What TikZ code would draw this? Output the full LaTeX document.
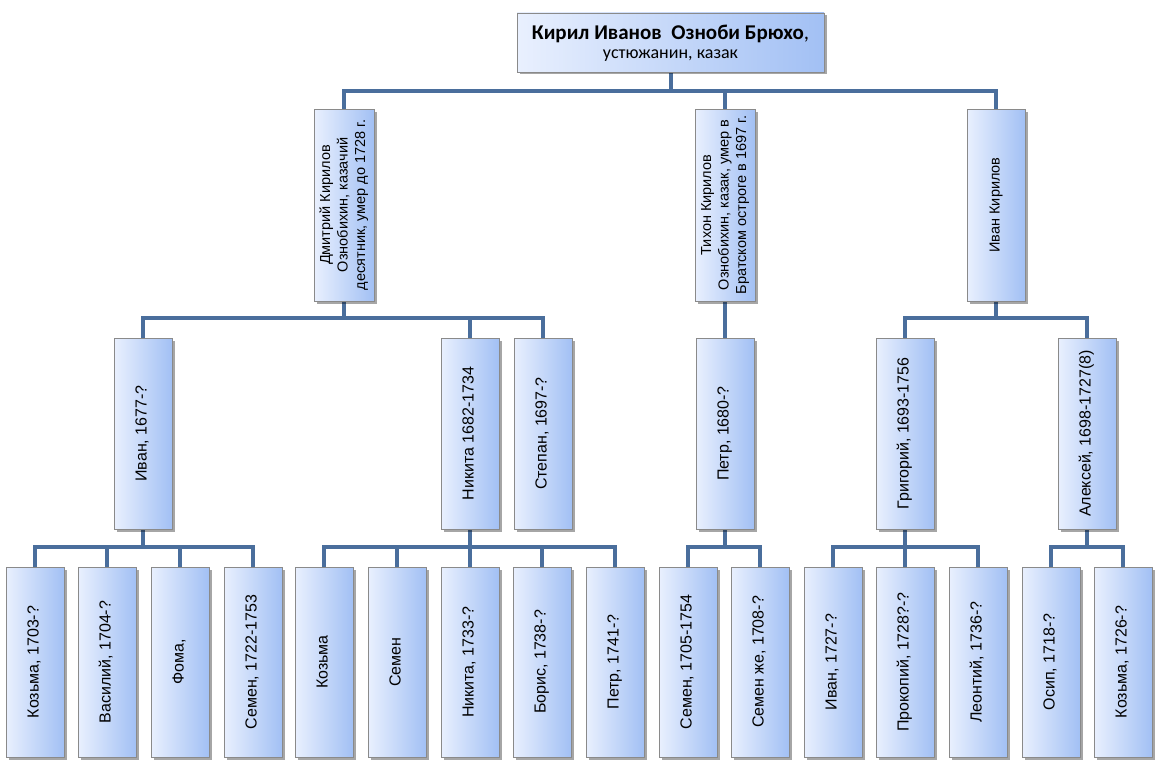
\documentclass[tikz,border=0pt]{standalone}
\usepackage{graphicx}
\usepackage{fontspec}
\setmainfont{Liberation Sans}
\newfontfamily\titlefont{Carlito}
\usetikzlibrary{shadows,backgrounds}
\definecolor{linec}{HTML}{4A6E9C}
\definecolor{boxl}{HTML}{E9F0FE}
\definecolor{boxr}{HTML}{A2C0F4}
\definecolor{boxd}{HTML}{8A8A8A}
\tikzset{
  pbox/.style={draw=boxd, line width=0.8pt, left color=boxl, right color=boxr,
    inner sep=0pt, align=center,
    drop shadow={shadow xshift=2.5pt, shadow yshift=-2.5pt, opacity=0.35, fill=black},
    font=\fontsize{16}{18}\selectfont},
  topbox/.style={pbox, minimum width=307pt, minimum height=59pt},
  lvla/.style={pbox, minimum width=60pt, minimum height=192pt, font=\fontsize{14.5}{17.5}\selectfont},
  lvlb/.style={pbox, minimum width=58pt, minimum height=191pt},
  lvlc/.style={pbox, minimum width=58pt, minimum height=190pt},
  conn/.style={draw=linec, line width=4pt},
}
\newcommand\vtext[1]{\rotatebox{90}{\begin{tabular}{@{}c@{}}#1\end{tabular}}}
\begin{document}
\begin{tikzpicture}[x=1pt,y=-1pt]
\useasboundingbox (0,0) rectangle (1165,784);
% root
\node[topbox] (r) at (670.5,42.5) {\rule{0pt}{15pt}{\titlefont\fontsize{21}{22}\selectfont\bfseries Кирил Иванов\ \ Озноби Брюхо\mdseries,}\\[1pt]\rule{0pt}{13pt}{\titlefont\fontsize{18}{19}\selectfont устюжанин, казак}};
% level 1
\node[lvla] (d) at (344,205) {\vtext{Дмитрий Кирилов\\ Ознобихин, казачий\\ десятник, умер до 1728 г.}};
\node[lvla] (t) at (725,205) {\vtext{Тихон Кирилов\\ Ознобихин, казак, умер в\\ Братском остроге в 1697 г.}};
\node[lvla, minimum width=58pt] (i) at (996,205) {\vtext{Иван Кирилов}};
% level 2
\node[lvlb] (d1) at (143,433.5) {\vtext{Иван, 1677-?}};
\node[lvlb] (d2) at (470,433.5) {\vtext{Никита 1682-1734}};
\node[lvlb] (d3) at (543,433.5) {\vtext{Степан, 1697-?}};
\node[lvlb] (t1) at (725,433.5) {\vtext{Петр, 1680-?}};
\node[lvlb] (i1) at (905,433.5) {\vtext{Григорий, 1693-1756}};
\node[lvlb] (i2) at (1087,433.5) {\vtext{Алексей, 1698-1727(8)}};
% level 3
\node[lvlc] (d1a) at (35,662) {\vtext{Козьма, 1703-?}};
\node[lvlc] (d1b) at (107,662) {\vtext{Василий, 1704-?}};
\node[lvlc] (d1c) at (180,662) {\vtext{Фома,}};
\node[lvlc] (d1d) at (253,662) {\vtext{Семен, 1722-1753}};
\node[lvlc] (d2a) at (324,662) {\vtext{Козьма}};
\node[lvlc] (d2b) at (397,662) {\vtext{Семен}};
\node[lvlc] (d2c) at (470,662) {\vtext{Никита, 1733-?}};
\node[lvlc] (d2d) at (542,662) {\vtext{Борис, 1738-?}};
\node[lvlc] (d2e) at (615,662) {\vtext{Петр, 1741-?}};
\node[lvlc] (t1a) at (688,662) {\vtext{Семен, 1705-1754}};
\node[lvlc] (t1b) at (760,662) {\vtext{Семен же, 1708-?}};
\node[lvlc] (i1a) at (833,662) {\vtext{Иван, 1727-?}};
\node[lvlc] (i1b) at (905,662) {\vtext{Прокопий, 1728?-?}};
\node[lvlc] (i1c) at (978,662) {\vtext{Леонтий, 1736-?}};
\node[lvlc] (i2a) at (1051,662) {\vtext{Осип, 1718-?}};
\node[lvlc] (i2b) at (1123,662) {\vtext{Козьма, 1726-?}};
\coordinate (b0) at (0,91);
\coordinate (b1) at (0,318);
\coordinate (b2) at (0,547);
\begin{pgfonlayer}{background}
\fill[white] (0,0) rectangle (1165,784);
\foreach \c in {d,t,i} \draw[conn] (r.south) -- (r.south |- b0) -| (\c.north);
\foreach \c in {d1,d2,d3} \draw[conn] (d.south) -- (d.south |- b1) -| (\c.north);
\draw[conn] (t.south) -- (t1.north);
\foreach \c in {i1,i2} \draw[conn] (i.south) -- (i.south |- b1) -| (\c.north);
\foreach \c in {d1a,d1b,d1c,d1d} \draw[conn] (d1.south) -- (d1.south |- b2) -| (\c.north);
\foreach \c in {d2a,d2b,d2c,d2d,d2e} \draw[conn] (d2.south) -- (d2.south |- b2) -| (\c.north);
\foreach \c in {t1a,t1b} \draw[conn] (t1.south) -- (t1.south |- b2) -| (\c.north);
\foreach \c in {i1a,i1b,i1c} \draw[conn] (i1.south) -- (i1.south |- b2) -| (\c.north);
\foreach \c in {i2a,i2b} \draw[conn] (i2.south) -- (i2.south |- b2) -| (\c.north);
\end{pgfonlayer}
\end{tikzpicture}
\end{document}
